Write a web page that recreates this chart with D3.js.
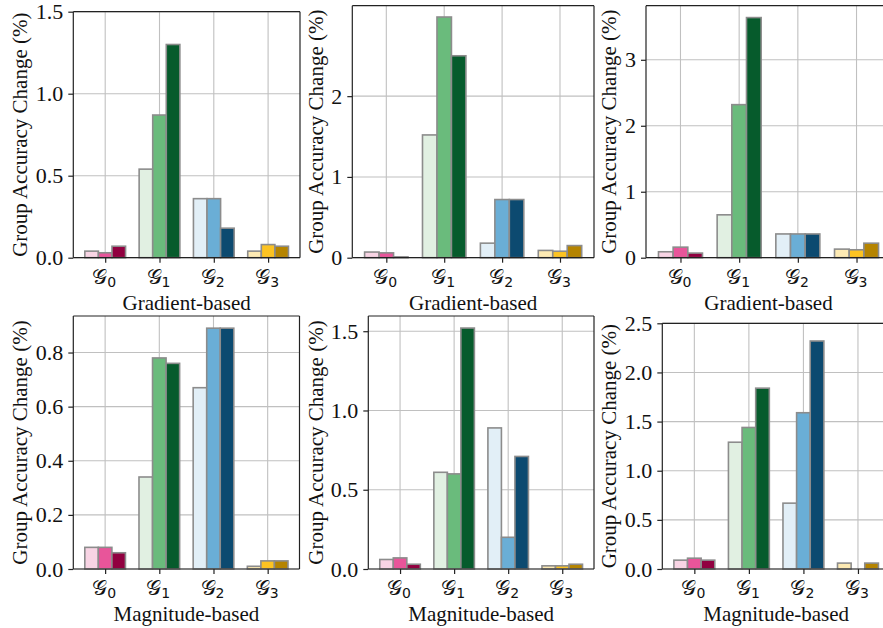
<!DOCTYPE html>
<html>
<head>
<meta charset="utf-8">
<script src="https://cdn.jsdelivr.net/npm/d3@7/dist/d3.min.js"></script>
<style>
  html, body { margin: 0; padding: 0; background: #fff; }
  svg { display: block; }
  .serif { font-family: "Liberation Serif", "Times New Roman", Times, serif; }
</style>
</head>
<body>
<svg id="chart" width="883" height="628"></svg>
<script>
// ---------------- data ----------------
const groupSubs = ["0", "1", "2", "3"];
const xLabels = ["Gradient-based", "Gradient-based", "Gradient-based",
                 "Magnitude-based", "Magnitude-based", "Magnitude-based"];
const yLabel = "Group Accuracy Change (%)";

// values[group][variant]
const gradA = [[0.04, 0.03, 0.07], [0.54, 0.87, 1.30], [0.36, 0.36, 0.18], [0.04, 0.08, 0.07]];
const gradB = [[0.07, 0.06, 0.01], [1.52, 2.98, 2.50], [0.18, 0.72, 0.72], [0.09, 0.08, 0.15]];
const gradC = [[0.09, 0.16, 0.07], [0.65, 2.32, 3.64], [0.36, 0.36, 0.36], [0.13, 0.12, 0.22]];
const magA  = [[0.08, 0.08, 0.06], [0.34, 0.78, 0.76], [0.67, 0.89, 0.89], [0.01, 0.03, 0.03]];
const magB  = [[0.06, 0.07, 0.03], [0.61, 0.60, 1.52], [0.89, 0.20, 0.71], [0.02, 0.02, 0.03]];
const magC  = [[0.09, 0.11, 0.09], [1.29, 1.44, 1.84], [0.67, 1.59, 2.32], [0.06, 0.00, 0.06]];

const yTicksA = [0, 0.5, 1.0, 1.5];
const yTicksB = [0, 1, 2];
const yTicksC = [0, 1, 2, 3];
const yTicksD = [0, 0.2, 0.4, 0.6, 0.8];
const yTicksE = [0, 0.5, 1.0, 1.5];
const yTicksF = [0, 0.5, 1.0, 1.5, 2.0, 2.5];
const yMax = [1.5, 3.12, 3.82, 0.935, 1.596, 2.5];
const yDecimals = [1, 0, 0, 1, 1, 1];

// ---------------- styles ----------------
const palette = [
  ["#f8d4e4", "#e8559a", "#910040"],
  ["#e1f0e2", "#6abb7c", "#065b2c"],
  ["#e2eff7", "#6aaed6", "#0c4a70"],
  ["#fdeab3", "#fcc322", "#b58400"]
];

const panels = [
  { values: gradA, ticks: yTicksA, x0: 73.3,  x1: 300,   y0: 11.7,  y1: 257.7, labelOff: 53 },
  { values: gradB, ticks: yTicksB, x0: 352.3, x1: 594,   y0: 5.7,   y1: 257.7, labelOff: 36 },
  { values: gradC, ticks: yTicksC, x0: 646,   x1: 891,   y0: 5.7,   y1: 257.7, labelOff: 37 },
  { values: magA,  ticks: yTicksD, x0: 73.3,  x1: 299.5, y0: 316,   y1: 569,   labelOff: 53 },
  { values: magB,  ticks: yTicksE, x0: 368.3, x1: 594,   y0: 316,   y1: 569,   labelOff: 52 },
  { values: magC,  ticks: yTicksF, x0: 662.3, x1: 890,   y0: 323.3, y1: 569,   labelOff: 53 }
];

const svg = d3.select("#chart");
const FS = 21;
const TFS = 22;
const barW = 0.25;
const offsets = [-0.25, 0, 0.25];

panels.forEach((p, i) => {
  const g = svg.append("g");
  const x = d3.scaleLinear().domain([-0.5875, 3.5875]).range([p.x0, p.x1]);
  const y = d3.scaleLinear().domain([0, yMax[i]]).range([p.y1, p.y0]);
  const fmt = d3.format("." + yDecimals[i] + "f");

  const clipId = "clip" + i;
  svg.append("clipPath").attr("id", clipId)
    .append("rect").attr("x", p.x0).attr("y", p.y0 - 2)
    .attr("width", p.x1 - p.x0).attr("height", p.y1 - p.y0 + 4);

  // grid
  const grid = g.append("g").attr("clip-path", `url(#${clipId})`);
  grid.selectAll("line.hy").data(p.ticks).join("line")
    .attr("x1", p.x0).attr("x2", p.x1)
    .attr("y1", d => y(d)).attr("y2", d => y(d))
    .attr("stroke", "#c0c0c0").attr("stroke-width", 1.1);
  grid.selectAll("line.vx").data(groupSubs.map((_, k) => k)).join("line")
    .attr("x1", d => x(d)).attr("x2", d => x(d))
    .attr("y1", p.y0).attr("y2", p.y1)
    .attr("stroke", "#c0c0c0").attr("stroke-width", 1.1);

  // bars
  const bars = [];
  p.values.forEach((vals, gi) => vals.forEach((v, vi) => bars.push({ gi, vi, v })));
  g.append("g").attr("clip-path", `url(#${clipId})`)
    .selectAll("rect").data(bars).join("rect")
    .attr("x", d => x(d.gi + offsets[d.vi] - barW / 2))
    .attr("width", d => x(d.gi + offsets[d.vi] + barW / 2) - x(d.gi + offsets[d.vi] - barW / 2))
    .attr("y", d => y(d.v))
    .attr("height", d => y(0) - y(d.v))
    .attr("fill", d => palette[d.gi][d.vi])
    .attr("stroke", "#8c8c8c").attr("stroke-width", 1.6);

  // spines
  const sp = g.append("g").attr("stroke", "#222").attr("stroke-width", 1.2).attr("fill", "none");
  const xr = Math.min(p.x1, 883);
  sp.append("line").attr("x1", p.x0).attr("x2", p.x0).attr("y1", p.y0).attr("y2", p.y1);
  sp.append("line").attr("x1", p.x0).attr("x2", xr).attr("y1", p.y1).attr("y2", p.y1);
  sp.append("line").attr("x1", p.x0).attr("x2", xr).attr("y1", p.y0).attr("y2", p.y0);
  if (p.x1 <= 883) sp.append("line").attr("x1", p.x1).attr("x2", p.x1).attr("y1", p.y0).attr("y2", p.y1);

  // y axis ticks
  const yAxis = d3.axisLeft(y).tickValues(p.ticks).tickFormat(fmt).tickSize(5).tickPadding(5);
  const ya = g.append("g").attr("transform", `translate(${p.x0},0)`).call(yAxis)
    .attr("font-family", null).attr("font-size", null);
  ya.select(".domain").remove();
  ya.selectAll("line").attr("stroke", "#222").attr("stroke-width", 1.2);
  ya.selectAll("text").attr("class", "serif")
    .style("font-size", TFS + "px").attr("fill", "#111");

  // x axis ticks
  const xAxis = d3.axisBottom(x).tickValues([0, 1, 2, 3]).tickFormat("").tickSize(5);
  const xa = g.append("g").attr("transform", `translate(0,${p.y1})`).call(xAxis);
  xa.select(".domain").remove();
  xa.selectAll("line").attr("stroke", "#222").attr("stroke-width", 1.2);

  // x tick labels (calligraphic G with subscript)
  groupSubs.forEach((s, k) => {
    const t = g.append("text")
      .attr("x", x(k) - 1).attr("y", p.y1 + 26)
      .attr("text-anchor", "middle").attr("fill", "#111");
    t.append("tspan").text("\u{1D4A2}")
      .style("font-family", "'DejaVu Serif', 'DejaVu Sans', serif").style("font-size", "21px");
    t.append("tspan").text(s).attr("dy", 3)
      .style("font-family", "'DejaVu Sans', sans-serif").style("font-size", "14px");
  });

  // x label
  g.append("text").attr("class", "serif")
    .attr("x", (p.x0 + p.x1) / 2).attr("y", p.y1 + 52)
    .attr("text-anchor", "middle")
    .style("font-size", FS + "px").attr("fill", "#111")
    .text(xLabels[i]);

  // y label
  g.append("text").attr("class", "serif")
    .attr("transform", `translate(${p.x0 - p.labelOff},${(p.y0 + p.y1) / 2}) rotate(-90)`)
    .attr("text-anchor", "middle").attr("dy", "0.33em")
    .style("font-size", FS + "px").attr("fill", "#111")
    .text(yLabel);
});
</script>
</body>
</html>
